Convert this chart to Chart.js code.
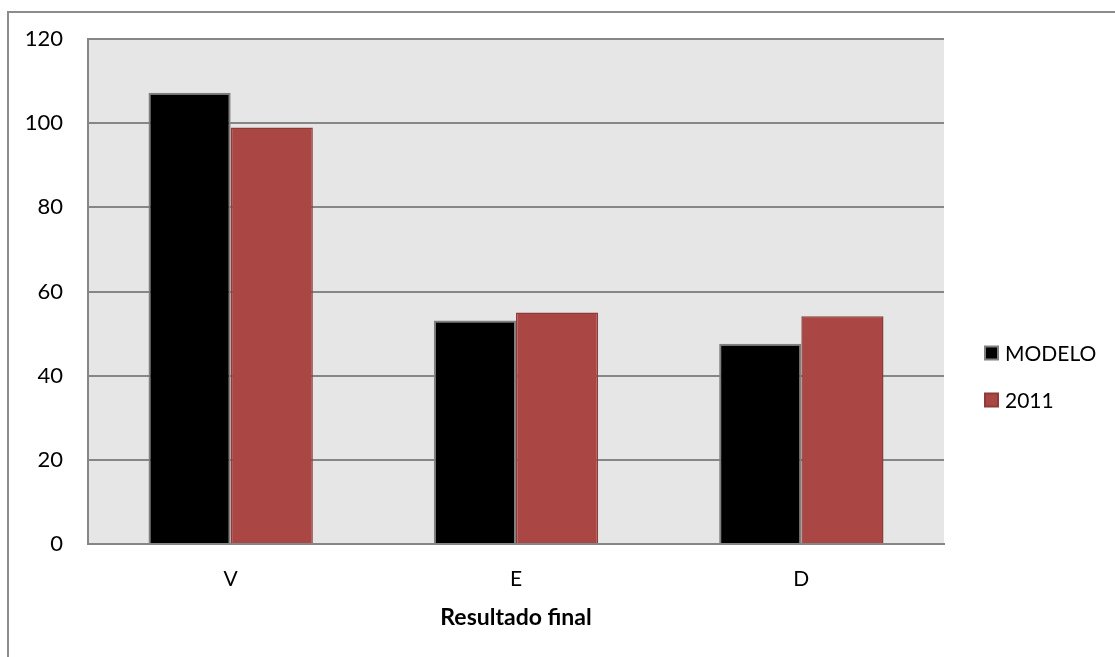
<!DOCTYPE html>
<html>
<head>
<meta charset="utf-8">
<script src="https://cdn.jsdelivr.net/npm/chart.js@4/dist/chart.umd.min.js"></script>
<style>
  html, body { margin: 0; padding: 0; background: #fff; overflow: hidden; }
  #wrap { position: relative; width: 1115px; height: 657px; }
  #frame { position: absolute; left: 7px; top: 11px; width: 1200px; height: 800px; border: 2px solid #8c8c8c; box-sizing: border-box; }
  canvas { position: absolute; left: 0; top: 0; }
</style>
</head>
<body>
<div id="wrap">
  <div id="frame"></div>
  <canvas id="chart" width="1115" height="657"></canvas>
</div>
<script>
const categories = ['V', 'E', 'D'];
const modelo = [107.2, 53.1, 47.6];
const valores2011 = [99, 55, 54.1];
const yTicks = [0, 20, 40, 60, 80, 100, 120];

const FONT = 'Lato, "Noto Sans", sans-serif';

// grey plot background behind the bars
const plotBg = {
    id: 'plotBg',
    beforeDraw(chart) {
        const a = chart.chartArea;
        const ctx = chart.ctx;
        ctx.save();
        ctx.fillStyle = '#e6e6e6';
        ctx.fillRect(a.left, a.top, a.right - a.left, a.bottom - a.top);
        ctx.restore();
    }
};

// legend to the right, one square + label per dataset
const sideLegend = {
    id: 'sideLegend',
    afterDraw(chart) {
        const ctx = chart.ctx;
        ctx.save();
        chart.data.datasets.forEach((ds, i) => {
            const y = 353 + i * 47;
            ctx.fillStyle = ds.backgroundColor;
            ctx.strokeStyle = ds.borderColor;
            ctx.lineWidth = 2;
            ctx.fillRect(985, y - 6.5, 13, 13);
            ctx.strokeRect(985, y - 6.5, 13, 13);
            ctx.fillStyle = '#000';
            ctx.font = '21px ' + FONT;
            ctx.textBaseline = 'middle';
            ctx.textAlign = 'left';
            ctx.fillText(ds.label, 1005, y + 1);
        });
        ctx.restore();
    }
};

const ctx = document.getElementById('chart').getContext('2d');
new Chart(ctx, {
    type: 'bar',
    data: {
        labels: categories,
        datasets: [
            {
                label: 'MODELO',
                data: modelo,
                backgroundColor: '#000000',
                borderColor: '#808080',
                borderWidth: 2,
                borderSkipped: 'bottom'
            },
            {
                label: '2011',
                data: valores2011,
                backgroundColor: '#aa4644',
                borderColor: '#8e3b39',
                borderWidth: 1.5,
                borderSkipped: 'bottom'
            }
        ]
    },
    options: {
        responsive: false,
        animation: false,
        layout: { padding: { left: 0, top: 39, right: 171, bottom: 0 } },
        plugins: {
            legend: { display: false },
            tooltip: { enabled: false }
        },
        datasets: {
            bar: { categoryPercentage: 0.576, barPercentage: 1 }
        },
        scales: {
            x: {
                grid: { display: false, drawTicks: false },
                border: { color: '#868686', width: 2 },
                ticks: { color: '#000', padding: 23, font: { family: FONT, size: 21 } },
                title: {
                    display: true,
                    text: 'Resultado final',
                    color: '#000',
                    font: { family: FONT, size: 23, weight: 'bold' },
                    padding: { top: 4, bottom: 26 }
                },
                afterFit(scale) { scale.height = 113; }
            },
            y: {
                min: 0,
                max: 120,
                afterBuildTicks(scale) { scale.ticks = yTicks.map(v => ({ value: v })); },
                grid: { color: '#868686', lineWidth: 2, drawTicks: false },
                border: { color: '#868686', width: 2 },
                ticks: { color: '#000', padding: 25, font: { family: FONT, size: 22 } },
                afterFit(scale) { scale.width = 88; }
            }
        }
    },
    plugins: [plotBg, sideLegend]
});
</script>
</body>
</html>
